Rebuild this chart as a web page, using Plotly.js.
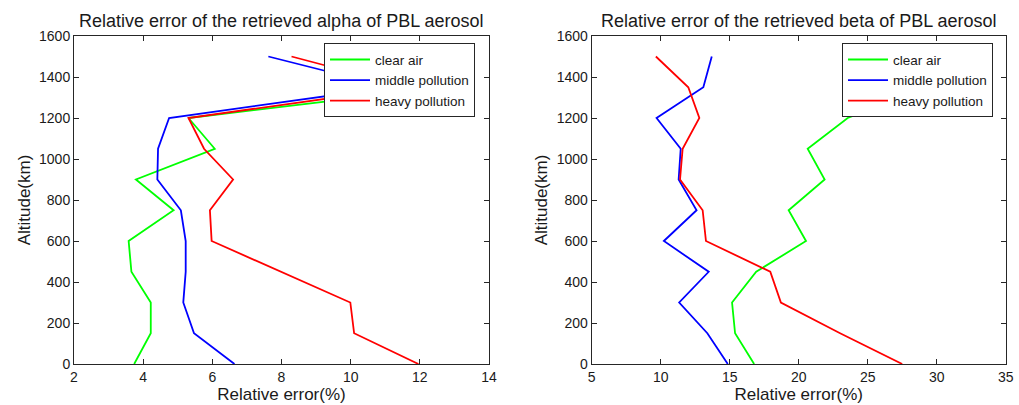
<!DOCTYPE html>
<html>
<head>
<meta charset="utf-8">
<script src="https://cdn.plot.ly/plotly-3.0.1.min.js"></script>
<style>html,body{margin:0;padding:0;background:#fff;}#chart{width:1019px;height:405px;}</style>
</head>
<body>
<div id="chart"></div>
<script>
// Altitude levels (as drawn on the y axis)
const altitude = [0, 150, 300, 450, 600, 750, 900, 1050, 1200, 1350, 1500];

// Left panel: relative error of retrieved alpha (%)
const alphaClear  = [3.74, 4.22, 4.22, 3.66, 3.58, 4.88, 3.79, 6.07, 5.31, 12.75, 12.5];
const alphaMiddle = [6.64, 5.47, 5.16, 5.23, 5.23, 5.09, 4.41, 4.43, 4.75, 11.14, 7.62];
const alphaHeavy  = [11.96, 10.1, 9.99, 8.0, 5.98, 5.93, 6.6, 5.76, 5.31, 11.65, 8.29];

// Right panel: relative error of retrieved beta (%)
const betaClear  = [16.77, 15.39, 15.17, 16.92, 20.53, 19.27, 21.88, 20.65, 23.55, 29.4, 30.0];
const betaMiddle = [14.86, 13.38, 11.34, 13.48, 10.23, 12.6, 11.3, 11.45, 9.7, 13.09, 13.7];
const betaHeavy  = [27.5, 23.0, 18.71, 17.94, 13.28, 13.04, 11.4, 11.59, 12.8, 12.0, 9.65];

const seriesNames = ["clear air", "middle pollution", "heavy pollution"];
const seriesColors = ["#00ff00", "#0000ff", "#ff0000"];

const titles = ["Relative error of the retrieved alpha of PBL aerosol",
                "Relative error of the retrieved beta of PBL aerosol"];
const xTitle = "Relative error(%)";
const yTitle = "Altitude(km)";

const font = "Arial, 'Liberation Sans', sans-serif";

function mk(x, i, xa, ya, leg) {
  return {x: x, y: altitude, type: "scatter", mode: "lines", name: seriesNames[i],
          xaxis: xa, yaxis: ya, legend: leg,
          line: {color: seriesColors[i], width: 1.8}};
}

const data = [
  mk(alphaClear, 0, "x", "y", "legend"),
  mk(alphaMiddle, 1, "x", "y", "legend"),
  mk(alphaHeavy, 2, "x", "y", "legend"),
  mk(betaClear, 0, "x2", "y2", "legend2"),
  mk(betaMiddle, 1, "x2", "y2", "legend2"),
  mk(betaHeavy, 2, "x2", "y2", "legend2")
];

const axBase = {
  showgrid: false, zeroline: false, showline: true, linecolor: "#262626", linewidth: 1,
  mirror: "ticks", ticks: "inside", ticklen: 5, tickcolor: "#262626",
  tickfont: {family: font, size: 14, color: "#1a1a1a"}
};
const axTitleFont = {family: font, size: 17, color: "#1a1a1a"};

const legBase = {
  bgcolor: "#ffffff", bordercolor: "#262626", borderwidth: 1,
  font: {family: font, size: 13.5, color: "#1a1a1a"},
  xanchor: "left", yanchor: "top", tracegroupgap: 0, itemwidth: 40
};

const layout = {
  width: 1019, height: 405,
  margin: {l: 0, r: 0, t: 36, b: 41},
  paper_bgcolor: "#ffffff", plot_bgcolor: "#ffffff",
  showlegend: true,
  xaxis: Object.assign({}, axBase, {domain: [74/1019, 489/1019], range: [2, 14], dtick: 2, anchor: "y",
    title: {text: xTitle, font: axTitleFont, standoff: 0}}),
  yaxis: Object.assign({}, axBase, {domain: [0, 1], range: [0, 1600], dtick: 200, anchor: "x",
    title: {text: yTitle, font: axTitleFont, standoff: 4}}),
  xaxis2: Object.assign({}, axBase, {domain: [591.7/1019, 1005.7/1019], range: [5, 35], dtick: 5, anchor: "y2",
    title: {text: xTitle, font: axTitleFont, standoff: 0}}),
  yaxis2: Object.assign({}, axBase, {domain: [0, 1], range: [0, 1600], dtick: 200, anchor: "x2",
    title: {text: yTitle, font: axTitleFont, standoff: 4}}),
  legend: Object.assign({}, legBase, {x: 324/1019, y: 0.978}),
  legend2: Object.assign({}, legBase, {x: 842/1019, y: 0.978}),
  annotations: [
    {text: titles[0], xref: "paper", yref: "paper", x: (74+489)/2/1019, xanchor: "center", y: 1, yanchor: "bottom", yshift: 3,
     showarrow: false, font: {family: font, size: 18, color: "#1a1a1a"}},
    {text: titles[1], xref: "paper", yref: "paper", x: (591.7+1005.7)/2/1019, xanchor: "center", y: 1, yanchor: "bottom", yshift: 3,
     showarrow: false, font: {family: font, size: 18, color: "#1a1a1a"}}
  ]
};

Plotly.newPlot("chart", data, layout, {displayModeBar: false, staticPlot: true});
</script>
</body>
</html>
